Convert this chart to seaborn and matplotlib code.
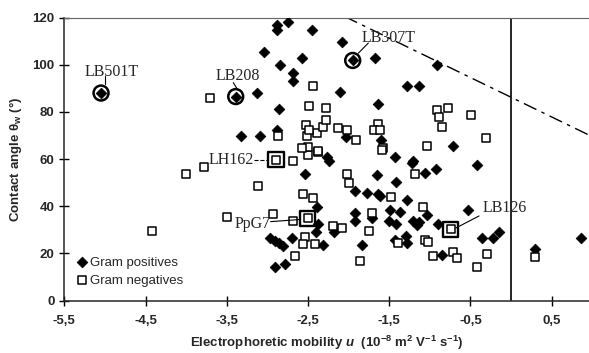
import matplotlib
matplotlib.use("Agg")
import matplotlib.pyplot as plt
import seaborn as sns
import pandas as pd

# Gram positive strains (filled diamonds)
pos_x = [-5.048, -3.39, -1.95,
         -2.885, -2.742, -2.885, -2.454, -3.038, -2.57, -2.845, -2.68, -2.68, -3.131,
         -2.853, -3.328, -3.09, -2.885, -2.085, -1.675, -0.916, -1.277, -1.137, -2.106,
         -1.642, -0.711, -0.423, -2.238, -2.032, -1.601, -2.537, -1.647, -1.425, -1.211,
         -1.223, -1.06, -0.924, -1.42, -2.27, -2.968, -2.906, -2.853, -2.804, -2.701,
         -2.906, -2.783, -2.393, -2.373, -2.4, -2.319, -1.921, -1.777, -1.635, -1.614,
         -1.277, -1.49, -1.367, -1.921, -1.921, -1.716, -1.498, -1.416, -1.204, -1.162,
         -1.13, -1.039, -0.526, -0.896, -2.18, -1.839, -1.43, -1.294, -1.277, -0.854,
         -0.362, -0.219, -0.145, 0.295, 0.857]
pos_y = [88.0, 86.5, 101.8,
         116.9, 117.9, 114.8, 114.5, 105.2, 102.8, 100.0, 96.4, 92.9, 88.0,
         81.2, 69.6, 69.6, 72.4, 109.8, 102.8, 99.7, 90.8, 90.8, 88.6,
         83.4, 65.6, 57.5, 59.4, 69.3, 68.1, 53.7, 53.3, 60.8, 59.2,
         58.3, 54.0, 55.7, 50.5, 61.1, 26.5, 25.4, 24.3, 23.2, 26.7,
         14.4, 15.6, 39.9, 32.5, 29.3, 23.6, 46.5, 45.5, 45.2, 44.4,
         42.7, 38.5, 37.7, 37.1, 33.8, 34.9, 33.9, 32.5, 33.9, 32.1,
         33.5, 36.3, 38.5, 32.5, 29.3, 23.6, 25.7, 27.4, 24.6, 19.4,
         26.7, 26.7, 29.3, 21.9, 26.7]

# Gram negative strains (open squares)
neg_x = [-2.894, -2.504, -0.743,
         -3.706, -4.005, -3.78, -3.112, -3.493, -4.424, -2.927, -2.68, -2.66, -2.565,
         -2.442, -2.537, -2.565, -2.414, -2.496, -2.373, -2.873, -2.68, -2.442, -2.488,
         -2.282, -2.127, -2.023, -1.909, -1.642, -1.684, -1.613, -1.58, -0.916, -0.78,
         -0.891, -0.854, -0.497, -0.312, -1.039, -1.183, -2.023, -1.593, -1.991, -1.478,
         -1.08, -1.708, -1.745, -2.196, -2.085, -1.06, -1.02, -1.388, -1.86, -0.957,
         -0.711, -0.67, -0.423, -0.293, 0.295, -2.528, -2.516, -2.393, -2.312, -2.282,
         -2.496, -2.577, -2.38, -2.484]
neg_y = [59.7, 34.9, 30.3,
         86.1, 53.7, 56.6, 48.6, 35.6, 29.7, 36.8, 33.9, 19.0, 45.1,
         43.4, 26.9, 24.0, 24.0, 61.8, 62.8, 69.8, 59.4, 90.8, 82.6,
         81.6, 73.1, 72.4, 67.9, 74.9, 72.4, 72.4, 64.9, 80.9, 81.6,
         77.8, 73.8, 78.6, 69.1, 65.6, 53.7, 53.7, 63.9, 49.8, 43.9,
         39.6, 37.1, 29.6, 31.7, 30.7, 25.7, 25.0, 24.3, 16.8, 19.0,
         20.8, 18.0, 14.4, 19.7, 18.7, 74.5, 69.6, 71.0, 73.8, 76.6,
         65.3, 64.6, 63.6, 72.4]

# labelled strains
circled_names = ["LB501T", "LB208", "LB307T"]
circled_x = [-5.048, -3.39, -1.95]
circled_y = [88.0, 86.5, 101.8]
boxed_names = ["LH162", "PpG7", "LB126"]
boxed_x = [-2.894, -2.504, -0.743]
boxed_y = [59.7, 34.9, 30.3]

# label text positions and leader lines (start, end)
label_pos = {"LB501T": (-4.92, 97.1), "LB208": (-3.36, 95.3), "LB307T": (-1.51, 111.3),
             "LH162": (-3.45, 59.7), "PpG7": (-3.18, 32.5), "LB126": (-0.075, 39.4)}
leaders = {"LB501T": ((-5.0, 95.3), (-5.0, 91.8)),
           "LB208": ((-3.42, 92.4), (-3.37, 89.6)),
           "LB307T": ((-1.757, 109.2), (-1.88, 104.9)),
           "LH162": ((-3.16, 59.7), (-3.0, 59.7)),
           "PpG7": ((-2.96, 33.5), (-2.6, 34.4)),
           "LB126": ((-0.395, 35.9), (-0.68, 30.8))}

# dash-dot boundary line  y = a + b*x
line_a, line_b = 86.2, -16.7

x_ticks = [-5.5, -4.5, -3.5, -2.5, -1.5, -0.5, 0.5]
x_tick_labels = ["-5,5", "-4,5", "-3,5", "-2,5", "-1,5", "-0,5", "0,5"]
y_ticks = [0, 20, 40, 60, 80, 100, 120]

sns.set_style("ticks")
plt.rcParams['font.family'] = ['Liberation Sans', 'DejaVu Sans']
plt.rcParams['mathtext.fontset'] = 'custom'
plt.rcParams['mathtext.rm'] = 'Liberation Sans:bold'
plt.rcParams['mathtext.it'] = 'Liberation Sans:italic:bold'
plt.rcParams['mathtext.bf'] = 'Liberation Sans:bold'

fig = plt.figure(figsize=(5.89, 3.53), dpi=100)
ax = fig.add_axes([0.1092, 0.1482, 0.8908, 0.8022])

pos = pd.DataFrame({"u": pos_x, "theta": pos_y})
neg = pd.DataFrame({"u": neg_x, "theta": neg_y})

sns.scatterplot(data=pos, x="u", y="theta", marker="D", s=30, color="black",
                edgecolor="black", linewidth=0.5, label="Gram positives", ax=ax, zorder=3)
sns.scatterplot(data=neg, x="u", y="theta", marker="s", s=40, color="white",
                edgecolor="black", linewidth=1.1, label="Gram negatives", ax=ax, zorder=3)

# circles and boxes around labelled strains
sns.scatterplot(x=circled_x, y=circled_y, marker="o", s=115, facecolor="none",
                edgecolor="black", linewidth=1.8, ax=ax, zorder=4)
sns.scatterplot(x=boxed_x, y=boxed_y, marker="s", s=120, facecolor="none",
                edgecolor="black", linewidth=1.7, ax=ax, zorder=4)

for name in circled_names + boxed_names:
    tx, ty = label_pos[name]
    ax.text(tx, ty, name, ha="center", va="center", fontsize=11.5,
            family=["Liberation Serif", "DejaVu Serif"], zorder=5)
    (x0, y0), (x1, y1) = leaders[name]
    ls = "--" if name == "LH162" else "-"
    ax.plot([x0, x1], [y0, y1], color="black", lw=0.8, ls=ls, zorder=5)

# dash-dot line and vertical line at u = 0
lx = [-2.05, 1.0]
ax.plot(lx, [line_a + line_b * v for v in lx], color="black", lw=1.0,
        ls=(0, (10, 4, 2.5, 4)), zorder=2)
ax.plot([0, 0], [0, 120], color="black", lw=1.2, zorder=2)

ax.set_xlim(-5.5, 0.959)
ax.set_ylim(0, 120)
ax.set_xticks(x_ticks)
ax.set_xticklabels(x_tick_labels)
ax.set_yticks(y_ticks)
ax.tick_params(direction="inout", length=7, width=1, labelsize=9.5, color="black")
ax.tick_params(axis="x", pad=7)
for lab in ax.get_xticklabels() + ax.get_yticklabels():
    lab.set_fontweight("bold")
ax.spines["right"].set_visible(False)
ax.spines["top"].set_color("0.4")
ax.spines["top"].set_linestyle((0, (1, 0.6)))
ax.spines["left"].set_linewidth(1.1)
ax.spines["bottom"].set_linewidth(1.1)

ax.set_xlabel(r'Electrophoretic mobility $\mathit{u}$  (10$^{\mathrm{-8}}$ m$^{\mathrm{2}}$ V$^{\mathrm{-1}}$ s$^{\mathrm{-1}}$)',
              fontsize=9.5, fontweight="bold", labelpad=5)
ax.set_ylabel('Contact angle θ$_{\\mathrm{w}}$ (°)', fontsize=9.5, fontweight="bold", labelpad=6)

ax.legend(frameon=False, loc="lower left", bbox_to_anchor=(0.008, 0.03),
          handletextpad=0.05, handlelength=1.2, labelspacing=0.45, fontsize=9.5,
          borderaxespad=0)

fig.savefig("out.png", dpi=100)
